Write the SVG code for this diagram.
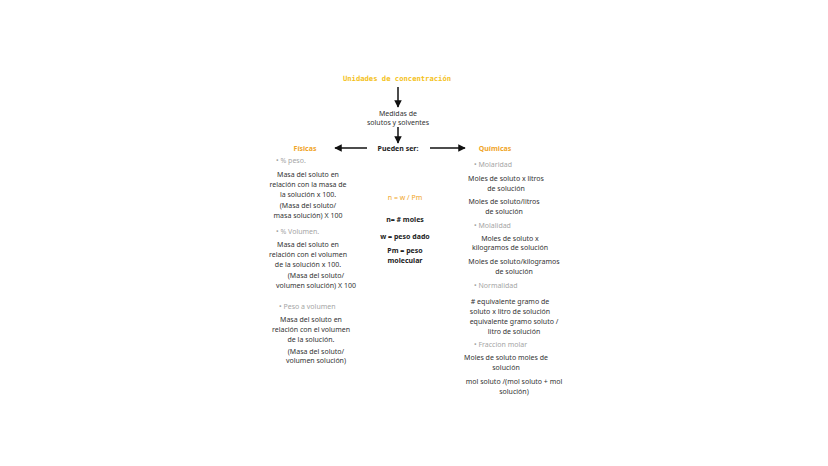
<svg xmlns="http://www.w3.org/2000/svg" width="828" height="466" viewBox="0 0 828 466">
<defs>
<marker id="ah" viewBox="0 0 10 10" refX="9" refY="5" markerWidth="5" markerHeight="5" orient="auto-start-reverse"><path d="M0,0 L10,5 L0,10 z" fill="#111"/></marker>
<style>
text{font-family:"Noto Sans","Open Sans",sans-serif;font-size:7px;fill:#333;text-anchor:middle}
.title{font-family:"DejaVu Sans Mono",monospace;font-size:7.2px;fill:#f4c21b;font-weight:bold}
.cat{fill:#f0a52a;font-weight:bold;font-size:7px}
.bul{fill:#a5a5a5;text-anchor:start}
.b{font-weight:bold;fill:#222}
.f{fill:#f0a52a}
</style>
</defs>
<rect width="828" height="466" fill="#fff"/>
<g id="connectors" stroke="#111" stroke-width="1.5" fill="none">
<line x1="398" y1="87" x2="398" y2="107" marker-end="url(#ah)"/>
<line x1="398" y1="127" x2="398" y2="143" marker-end="url(#ah)"/>
<line x1="367" y1="148" x2="335" y2="148" marker-end="url(#ah)"/>
<line x1="430" y1="148" x2="465" y2="148" marker-end="url(#ah)"/>
</g>
<g id="title"><text class="title" x="397" y="81">Unidades de concentración</text></g>
<g id="medidas"><text x="398" y="116">Medidas de</text><text x="398" y="125">solutos y solventes</text></g>
<g id="pueden"><text class="b" x="398" y="151">Pueden ser:</text></g>
<g id="fisicas"><text class="cat" x="305" y="151">Físicas</text></g>
<g id="quimicas"><text class="cat" x="495" y="151">Químicas</text></g>
<g id="peso">
<text class="bul" x="276" y="163">•  % peso.</text>
<text x="308" y="177">Masa del soluto en</text>
<text x="308" y="187">relación con la masa de</text>
<text x="308" y="197">la solución x 100.</text>
<text x="308" y="208">(Masa del soluto/</text>
<text x="308" y="218">masa solución) X 100</text>
</g>
<g id="volumen">
<text class="bul" x="276" y="234">•  % Volumen.</text>
<text x="308" y="247">Masa del soluto en</text>
<text x="308" y="257">relación con el volumen</text>
<text x="308" y="267">de la solución x 100.</text>
<text x="316" y="278">(Masa del soluto/</text>
<text x="316" y="288">volumen solución) X 100</text>
</g>
<g id="pesovol">
<text class="bul" x="279" y="309">•  Peso a volumen</text>
<text x="311" y="322">Masa del soluto en</text>
<text x="311" y="332">relación con el volumen</text>
<text x="311" y="342">de la solución.</text>
<text x="316" y="354">(Masa del soluto/</text>
<text x="316" y="363">volumen solución)</text>
</g>
<g id="formula">
<text class="f" x="405" y="200">n = w / Pm</text>
<text class="b" x="405" y="222">n= # moles</text>
<text class="b" x="405" y="239">w = peso dado</text>
<text class="b" x="405" y="253">Pm = peso</text>
<text class="b" x="405" y="263">molecular</text>
</g>
<g id="molaridad">
<text class="bul" x="474" y="167">•  Molaridad</text>
<text x="506" y="181">Moles de soluto x litros</text>
<text x="506" y="191">de solución</text>
<text x="504" y="204">Moles de soluto/litros</text>
<text x="504" y="214">de solución</text>
</g>
<g id="molalidad">
<text class="bul" x="474" y="228">•  Molalidad</text>
<text x="510" y="241">Moles de soluto x</text>
<text x="510" y="250">kilogramos de solución</text>
<text x="514" y="264">Moles de soluto/kilogramos</text>
<text x="514" y="274">de solución</text>
</g>
<g id="normalidad">
<text class="bul" x="474" y="288">•  Normalidad</text>
<text x="510" y="304">#  equivalente gramo de</text>
<text x="510" y="314">soluto x litro de solución</text>
<text x="514" y="324">equivalente gramo soluto /</text>
<text x="514" y="334">litro de solución</text>
</g>
<g id="fraccion">
<text class="bul" x="474" y="347">•  Fraccion molar</text>
<text x="506" y="360">Moles de soluto moles de</text>
<text x="506" y="370">solución</text>
<text x="514" y="384">mol soluto /(mol soluto + mol</text>
<text x="514" y="394">solución)</text>
</g>
</svg>
